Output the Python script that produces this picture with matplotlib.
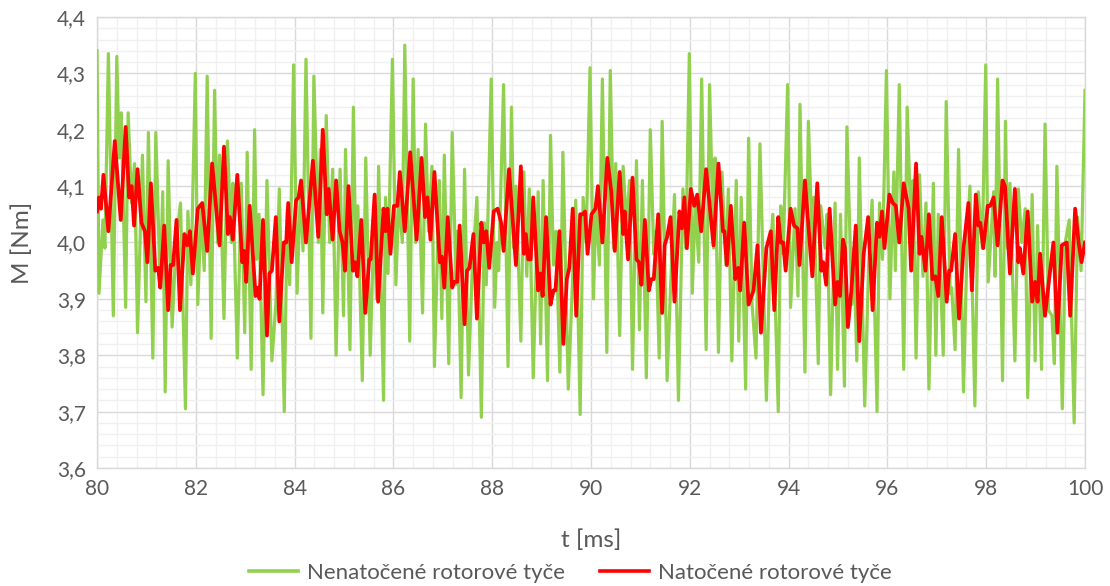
import matplotlib.pyplot as plt
from matplotlib.ticker import MultipleLocator, FuncFormatter
from matplotlib.lines import Line2D

# ==========================================================
# Data
# ==========================================================

t_nenatocene = [
    80.00, 80.04, 80.12, 80.16, 80.23, 80.33, 80.40, 80.45, 80.49, 80.58,
    80.63, 80.70, 80.76, 80.82, 80.92, 80.99, 81.04, 81.13, 81.19, 81.28,
    81.33, 81.38, 81.44, 81.52, 81.60, 81.69, 81.79, 81.84, 81.90, 81.99,
    82.04, 82.11, 82.17, 82.23, 82.31, 82.38, 82.44, 82.48, 82.57, 82.64,
    82.72, 82.75, 82.84, 82.92, 82.99, 83.04, 83.12, 83.19, 83.23, 83.28,
    83.36, 83.44, 83.54, 83.62, 83.69, 83.79, 83.85, 83.90, 83.98, 84.05,
    84.12, 84.17, 84.23, 84.33, 84.39, 84.48, 84.52, 84.57, 84.64, 84.71,
    84.77, 84.84, 84.92, 84.99, 85.03, 85.12, 85.19, 85.24, 85.28, 85.37,
    85.44, 85.53, 85.61, 85.66, 85.70, 85.80, 85.84, 85.89, 85.98, 86.05,
    86.11, 86.18, 86.23, 86.33, 86.40, 86.45, 86.50, 86.59, 86.65, 86.71,
    86.78, 86.83, 86.93, 86.98, 87.03, 87.12, 87.19, 87.27, 87.30, 87.37,
    87.44, 87.52, 87.59, 87.69, 87.78, 87.84, 87.88, 87.98, 88.05, 88.10,
    88.13, 88.23, 88.32, 88.39, 88.44, 88.48, 88.58, 88.64, 88.70, 88.75,
    88.83, 88.93, 88.98, 89.03, 89.12, 89.18, 89.24, 89.29, 89.37, 89.43,
    89.54, 89.69, 89.78, 89.84, 89.90, 89.98, 90.05, 90.10, 90.17, 90.23,
    90.32, 90.39, 90.46, 90.50, 90.58, 90.65, 90.72, 90.78, 90.84, 90.92,
    90.98, 91.04, 91.12, 91.20, 91.27, 91.31, 91.38, 91.44, 91.54, 91.61,
    91.69, 91.77, 91.86, 91.92, 91.99, 92.05, 92.11, 92.18, 92.24, 92.33,
    92.40, 92.48, 92.51, 92.58, 92.65, 92.73, 92.78, 92.85, 92.94, 92.99,
    93.04, 93.13, 93.19, 93.26, 93.34, 93.42, 93.55, 93.62, 93.68, 93.79,
    93.84, 93.89, 93.98, 94.04, 94.13, 94.19, 94.23, 94.33, 94.40, 94.48,
    94.51, 94.60, 94.65, 94.74, 94.78, 94.85, 94.94, 94.99, 95.05, 95.13,
    95.18, 95.28, 95.32, 95.38, 95.43, 95.54, 95.62, 95.69, 95.79, 95.84,
    95.90, 95.98, 96.05, 96.13, 96.16, 96.24, 96.33, 96.40, 96.48, 96.52,
    96.58, 96.65, 96.72, 96.78, 96.84, 96.93, 96.98, 97.03, 97.13, 97.19,
    97.27, 97.30, 97.37, 97.44, 97.54, 97.61, 97.67, 97.77, 97.84, 97.92,
    97.99, 98.04, 98.15, 98.18, 98.23, 98.33, 98.39, 98.43, 98.48, 98.58,
    98.65, 98.72, 98.79, 98.84, 98.93, 98.99, 99.04, 99.12, 99.19, 99.26,
    99.33, 99.38, 99.43, 99.54, 99.60, 99.68, 99.78, 99.85, 99.92, 100.00,
]

m_nenatocene = [
    4.340, 3.910, 4.040, 3.990, 4.335, 3.870, 4.330, 4.150, 4.230, 3.885,
    4.230, 4.070, 4.140, 3.840, 4.155, 3.895, 4.195, 3.795, 4.195, 3.920,
    4.090, 3.735, 4.145, 3.850, 4.000, 4.070, 3.705, 4.055, 3.925, 4.300,
    3.890, 4.060, 3.950, 4.295, 3.830, 4.270, 4.000, 4.155, 3.865, 4.180,
    4.000, 4.105, 3.795, 4.105, 3.840, 4.160, 3.775, 4.200, 3.970, 4.050,
    3.730, 4.110, 3.790, 3.890, 4.095, 3.700, 4.055, 3.925, 4.315, 3.910,
    4.100, 3.985, 4.325, 3.830, 4.295, 4.000, 4.165, 3.875, 4.225, 4.000,
    4.130, 3.800, 4.130, 3.870, 4.165, 3.810, 4.240, 3.960, 4.065, 3.755,
    4.150, 3.800, 4.050, 3.900, 4.135, 3.720, 4.080, 3.945, 4.325, 3.925,
    4.080, 4.000, 4.350, 3.825, 4.290, 4.000, 4.165, 3.875, 4.210, 4.020,
    4.135, 3.780, 4.110, 3.865, 4.155, 3.785, 4.195, 3.925, 4.020, 3.725,
    4.130, 3.765, 3.940, 4.080, 3.690, 4.035, 3.925, 4.290, 3.885, 4.000,
    3.950, 4.280, 3.780, 4.240, 3.990, 4.100, 3.825, 4.125, 3.940, 4.095,
    3.760, 4.090, 3.820, 4.110, 3.755, 4.190, 3.960, 4.020, 3.770, 4.160,
    3.740, 4.075, 3.695, 4.080, 4.000, 4.310, 3.900, 4.070, 3.960, 4.290,
    3.805, 4.305, 3.990, 4.140, 3.835, 4.135, 4.030, 4.110, 3.775, 4.145,
    3.845, 4.110, 3.760, 4.200, 3.980, 4.020, 3.795, 4.215, 3.755, 3.920,
    4.085, 3.720, 4.095, 3.990, 4.335, 3.910, 4.070, 3.965, 4.290, 3.810,
    4.280, 3.990, 4.150, 3.805, 4.125, 3.960, 4.095, 3.790, 4.110, 3.825,
    4.080, 3.740, 4.185, 3.890, 3.795, 4.175, 3.720, 3.970, 4.050, 3.700,
    4.065, 3.980, 4.280, 3.885, 4.060, 3.905, 4.245, 3.770, 4.215, 3.990,
    4.080, 3.785, 4.065, 3.990, 4.050, 3.730, 4.070, 3.775, 4.050, 3.745,
    4.205, 3.890, 3.990, 3.790, 4.150, 3.710, 3.960, 4.075, 3.700, 4.070,
    3.970, 4.305, 3.900, 4.125, 3.950, 4.280, 3.775, 4.240, 4.020, 4.110,
    3.795, 4.120, 3.940, 4.070, 3.740, 4.105, 3.800, 4.050, 3.800, 4.250,
    3.910, 3.920, 3.810, 4.165, 3.735, 3.990, 4.100, 3.710, 4.090, 3.990,
    4.315, 3.930, 4.090, 3.940, 4.290, 3.755, 4.215, 3.990, 4.105, 3.790,
    4.095, 4.000, 4.060, 3.725, 4.085, 3.790, 4.030, 3.775, 4.210, 3.880,
    3.870, 3.785, 4.135, 3.705, 4.000, 4.040, 3.680, 4.045, 3.950, 4.270,
]

t_natocene = [
    80.00, 80.04, 80.08, 80.13, 80.23, 80.36, 80.48, 80.58, 80.65, 80.70,
    80.75, 80.82, 80.90, 80.97, 81.02, 81.09, 81.18, 81.24, 81.28, 81.36,
    81.44, 81.49, 81.54, 81.61, 81.68, 81.77, 81.83, 81.88, 81.94, 82.04,
    82.13, 82.23, 82.33, 82.48, 82.57, 82.65, 82.69, 82.75, 82.84, 82.94,
    82.98, 83.02, 83.09, 83.21, 83.26, 83.29, 83.36, 83.44, 83.49, 83.54,
    83.62, 83.69, 83.78, 83.83, 83.87, 83.94, 84.03, 84.08, 84.13, 84.23,
    84.37, 84.48, 84.57, 84.65, 84.69, 84.77, 84.84, 84.91, 84.97, 85.02,
    85.09, 85.18, 85.22, 85.27, 85.35, 85.43, 85.51, 85.54, 85.62, 85.69,
    85.80, 85.84, 85.88, 85.94, 86.01, 86.08, 86.13, 86.23, 86.34, 86.47,
    86.57, 86.64, 86.69, 86.75, 86.83, 86.94, 86.98, 87.03, 87.10, 87.19,
    87.23, 87.29, 87.34, 87.44, 87.49, 87.54, 87.62, 87.69, 87.78, 87.83,
    87.88, 87.94, 88.03, 88.11, 88.18, 88.23, 88.34, 88.48, 88.58, 88.64,
    88.68, 88.73, 88.78, 88.83, 88.93, 88.98, 89.02, 89.09, 89.18, 89.24,
    89.28, 89.36, 89.44, 89.51, 89.56, 89.63, 89.70, 89.78, 89.83, 89.88,
    89.93, 90.01, 90.05, 90.09, 90.14, 90.23, 90.33, 90.41, 90.48, 90.58,
    90.65, 90.68, 90.75, 90.84, 90.92, 90.97, 91.02, 91.09, 91.17, 91.22,
    91.27, 91.36, 91.44, 91.49, 91.54, 91.61, 91.69, 91.79, 91.84, 91.89,
    91.94, 92.02, 92.09, 92.15, 92.23, 92.33, 92.48, 92.58, 92.67, 92.70,
    92.75, 92.83, 92.92, 92.98, 93.02, 93.10, 93.19, 93.29, 93.37, 93.44,
    93.55, 93.64, 93.71, 93.79, 93.84, 93.89, 93.94, 94.04, 94.11, 94.18,
    94.22, 94.33, 94.41, 94.48, 94.58, 94.66, 94.70, 94.76, 94.83, 94.94,
    94.99, 95.04, 95.10, 95.14, 95.20, 95.27, 95.36, 95.43, 95.52, 95.61,
    95.70, 95.79, 95.84, 95.89, 95.94, 96.04, 96.11, 96.17, 96.24, 96.33,
    96.43, 96.48, 96.58, 96.65, 96.69, 96.77, 96.84, 96.91, 96.97, 97.03,
    97.10, 97.20, 97.25, 97.29, 97.37, 97.45, 97.54, 97.64, 97.71, 97.79,
    97.84, 97.88, 97.94, 98.03, 98.08, 98.15, 98.23, 98.33, 98.38, 98.48,
    98.58, 98.65, 98.68, 98.75, 98.84, 98.93, 98.99, 99.04, 99.09, 99.19,
    99.26, 99.36, 99.44, 99.53, 99.63, 99.70, 99.80, 99.87, 99.93, 100.00,
]

m_natocene = [
    4.055, 4.080, 4.060, 4.120, 4.020, 4.180, 4.040, 4.205, 4.080, 4.100,
    4.030, 4.130, 4.035, 4.020, 3.965, 4.105, 3.950, 3.955, 3.920, 4.030,
    3.880, 3.960, 3.960, 4.040, 3.880, 4.015, 3.995, 4.020, 3.945, 4.060,
    4.070, 3.985, 4.140, 3.995, 4.170, 4.015, 4.045, 4.005, 4.120, 3.965,
    3.985, 3.930, 4.065, 3.905, 3.920, 3.900, 4.040, 3.835, 3.945, 3.950,
    4.045, 3.860, 4.000, 4.000, 4.070, 3.965, 4.075, 4.080, 4.110, 4.000,
    4.145, 4.010, 4.200, 4.050, 4.095, 4.005, 4.110, 4.020, 4.000, 3.950,
    4.100, 3.950, 3.965, 3.940, 4.040, 3.875, 3.970, 3.970, 4.085, 3.895,
    4.060, 4.020, 4.060, 3.980, 4.065, 4.065, 4.125, 4.020, 4.160, 4.005,
    4.150, 4.045, 4.080, 4.005, 4.125, 3.965, 3.975, 3.920, 4.045, 3.920,
    3.930, 3.930, 4.030, 3.855, 3.950, 3.955, 4.015, 3.865, 4.035, 4.000,
    4.020, 3.955, 4.055, 4.060, 4.035, 3.985, 4.130, 3.960, 4.135, 3.980,
    4.015, 3.970, 3.970, 4.080, 3.915, 3.945, 3.905, 4.045, 3.890, 3.915,
    3.915, 4.020, 3.820, 3.935, 3.955, 4.060, 3.870, 4.050, 4.050, 4.055,
    3.980, 4.050, 4.055, 4.060, 4.100, 4.000, 4.150, 4.090, 3.985, 4.125,
    4.015, 4.055, 3.970, 4.115, 3.970, 3.965, 3.925, 4.040, 3.915, 3.935,
    3.935, 4.050, 3.875, 3.995, 4.010, 4.045, 3.895, 4.055, 4.025, 4.080,
    3.990, 4.095, 4.065, 4.085, 4.020, 4.130, 3.995, 4.140, 4.020, 4.020,
    3.960, 4.065, 3.935, 3.955, 3.915, 4.035, 3.890, 3.915, 3.995, 3.840,
    3.990, 4.020, 3.880, 4.045, 4.000, 4.000, 3.950, 4.060, 4.030, 4.025,
    3.960, 4.110, 4.020, 3.940, 4.105, 3.950, 3.965, 3.925, 4.060, 3.890,
    3.930, 3.905, 4.005, 3.990, 3.850, 3.915, 4.030, 3.825, 3.980, 4.045,
    3.880, 4.035, 4.010, 4.055, 3.990, 4.085, 4.070, 4.065, 4.000, 4.105,
    4.060, 3.950, 4.140, 3.980, 4.010, 3.950, 4.050, 3.935, 3.940, 3.905,
    4.045, 3.895, 3.950, 3.950, 4.015, 3.865, 3.990, 4.070, 3.915, 4.085,
    4.030, 4.035, 3.990, 4.065, 4.065, 4.080, 3.995, 4.110, 4.100, 3.945,
    4.095, 3.965, 3.990, 3.945, 4.055, 3.895, 3.930, 3.895, 3.980, 3.870,
    3.925, 4.000, 3.840, 3.995, 4.000, 3.870, 4.060, 4.000, 3.965, 4.000,
]

labels = ["Nenatočené rotorové tyče", "Natočené rotorové tyče"]
colors = ["#92D050", "#FF0000"]


def comma(value, pos):
    return f"{value:.1f}".replace(".", ",")


def main():

    plt.rcParams["font.family"] = ["Lato", "DejaVu Sans"]

    fig = plt.figure(figsize=(11.10, 5.86), dpi=100)
    ax = fig.add_axes([0.0874, 0.2014, 0.8901, 0.7696])

    # ==========================================================
    # Series
    # ==========================================================

    ax.plot(t_nenatocene, m_nenatocene, color=colors[0], lw=2.3,
            solid_joinstyle="round", zorder=3)
    ax.plot(t_natocene, m_natocene, color=colors[1], lw=2.7,
            solid_joinstyle="round", zorder=4)

    # ==========================================================
    # Axes, grid
    # ==========================================================

    ax.set_xlim(80, 100)
    ax.set_ylim(3.6, 4.4)

    ax.xaxis.set_major_locator(MultipleLocator(2))
    ax.xaxis.set_minor_locator(MultipleLocator(0.4))
    ax.yaxis.set_major_locator(MultipleLocator(0.1))
    ax.yaxis.set_minor_locator(MultipleLocator(0.02))
    ax.yaxis.set_major_formatter(FuncFormatter(comma))

    ax.grid(which="major", color="#D9D9D9", lw=1.0, zorder=1)
    ax.grid(which="minor", color="#F0F0F0", lw=1.0, zorder=0)

    for side in ax.spines:
        ax.spines[side].set_color("#D9D9D9")
        ax.spines[side].set_linewidth(1.0)

    ax.tick_params(which="both", length=0, labelsize=15,
                   labelcolor="#595959", pad=8)

    ax.set_xlabel("t [ms]", fontsize=17.5, color="#595959", labelpad=22)
    ax.set_ylabel("M [Nm]", fontsize=17.5, color="#595959", labelpad=17)

    # ==========================================================
    # Legend
    # ==========================================================

    handles = [Line2D([], [], color=c, lw=2.6) for c in colors]
    fig.legend(handles, labels, loc="center", bbox_to_anchor=(0.514, 0.022),
               ncol=2, frameon=False, fontsize=16, handlelength=2.2,
               columnspacing=1.6, handletextpad=0.4, labelcolor="#595959")

    fig.savefig("out.png", dpi=100)
    plt.close(fig)


if __name__ == "__main__":
    main()
